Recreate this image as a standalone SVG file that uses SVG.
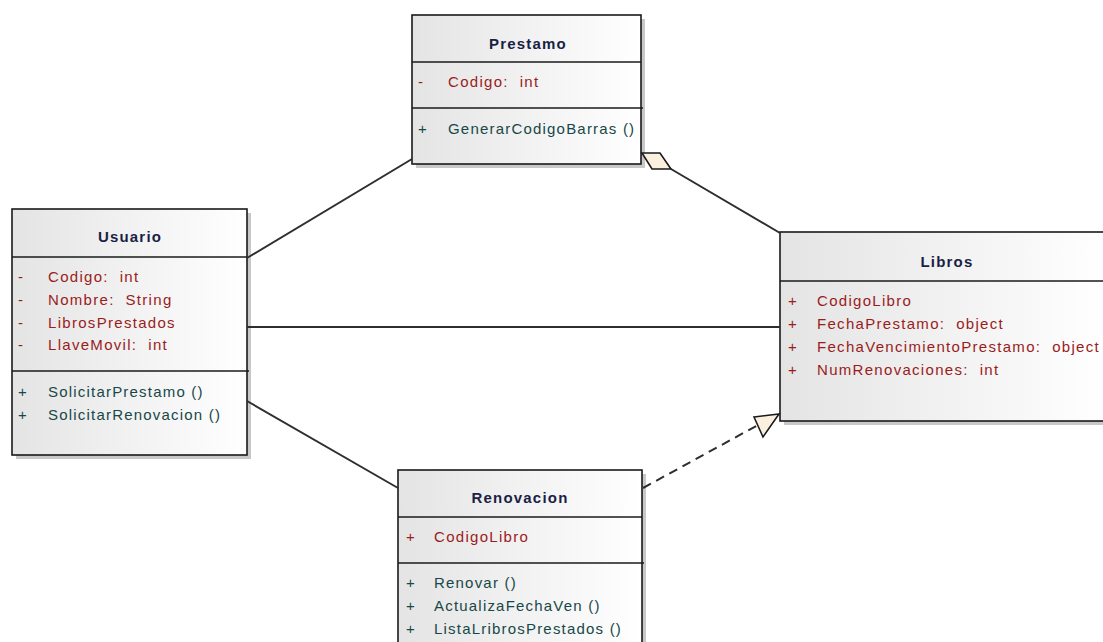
<svg xmlns="http://www.w3.org/2000/svg" width="1103" height="642" viewBox="0 0 1103 642" xml:space="preserve">
<defs>
<linearGradient id="g" x1="0" y1="0" x2="1" y2="0">
<stop offset="0" stop-color="#e4e4e4"/>
<stop offset="1" stop-color="#ffffff"/>
</linearGradient>
</defs>
<style>
.sh{fill:#c8c8c8}
.box{fill:url(#g);stroke:#1a1a1a;stroke-width:1.6}
.div{stroke:#1a1a1a;stroke-width:1.6}
text{font-family:"Liberation Sans",Arial,sans-serif;font-size:15px;letter-spacing:1.3px;white-space:pre}
.t{font-weight:bold;fill:#1a1f45;text-anchor:middle;letter-spacing:1.2px}
.a{fill:#9a1c1c}
.m{fill:#174848;letter-spacing:1.2px}
.ln{fill:none;stroke:#2e2e2e;stroke-width:2}
</style>
<rect width="1103" height="642" fill="#ffffff"/>
<g id="Prestamo">
<rect class="sh" x="416" y="19" width="229" height="149"/>
<rect class="box" x="412" y="15" width="229" height="149"/>
<line class="div" x1="412" y1="62" x2="641" y2="62"/>
<line class="div" x1="412" y1="108" x2="643" y2="108"/>
<text class="t" x="528" y="49">Prestamo</text>
<text class="a" x="418" y="87">-</text>
<text class="a" x="448" y="87">Codigo:  int</text>
<text class="m" x="418" y="134">+</text>
<text class="m" x="448" y="134">GenerarCodigoBarras ()</text>
</g>
<g id="Usuario">
<rect class="sh" x="16" y="213" width="235" height="246"/>
<rect class="box" x="12" y="209" width="235" height="246"/>
<line class="div" x1="12" y1="257" x2="247" y2="257"/>
<line class="div" x1="12" y1="371" x2="249" y2="371"/>
<text class="t" x="130" y="242">Usuario</text>
<text class="a" x="18" y="282">-</text>
<text class="a" x="48" y="282">Codigo:  int</text>
<text class="a" x="18" y="305">-</text>
<text class="a" x="48" y="305">Nombre:  String</text>
<text class="a" x="18" y="328">-</text>
<text class="a" x="48" y="328">LibrosPrestados</text>
<text class="a" x="18" y="350">-</text>
<text class="a" x="48" y="350">LlaveMovil:  int</text>
<text class="m" x="18" y="397">+</text>
<text class="m" x="48" y="397">SolicitarPrestamo ()</text>
<text class="m" x="18" y="420">+</text>
<text class="m" x="48" y="420">SolicitarRenovacion ()</text>
</g>
<g id="Libros">
<rect class="sh" x="784" y="236" width="330" height="189"/>
<rect class="box" x="780" y="232" width="330" height="189"/>
<line class="div" x1="780" y1="281" x2="1110" y2="281"/>
<text class="t" x="947" y="267">Libros</text>
<text class="a" x="788" y="306">+</text>
<text class="a" x="817" y="306">CodigoLibro</text>
<text class="a" x="788" y="329">+</text>
<text class="a" x="817" y="329">FechaPrestamo:  object</text>
<text class="a" x="788" y="352">+</text>
<text class="a" x="817" y="352">FechaVencimientoPrestamo:  object</text>
<text class="a" x="788" y="375">+</text>
<text class="a" x="817" y="375">NumRenovaciones:  int</text>
</g>
<g id="Renovacion">
<rect class="sh" x="402" y="474" width="244" height="180"/>
<rect class="box" x="398" y="470" width="244" height="180"/>
<line class="div" x1="398" y1="517" x2="642" y2="517"/>
<line class="div" x1="398" y1="563" x2="644" y2="563"/>
<text class="t" x="520" y="503">Renovacion</text>
<text class="a" x="406" y="542">+</text>
<text class="a" x="434" y="542">CodigoLibro</text>
<text class="m" x="406" y="588">+</text>
<text class="m" x="434" y="588">Renovar ()</text>
<text class="m" x="406" y="611">+</text>
<text class="m" x="434" y="611">ActualizaFechaVen ()</text>
<text class="m" x="406" y="634">+</text>
<text class="m" x="434" y="634">ListaLribrosPrestados ()</text>
</g>
<g id="connectors">
<line class="ln" x1="247" y1="258" x2="412" y2="159"/>
<line class="ln" x1="247" y1="327" x2="780" y2="327"/>
<line class="ln" x1="247" y1="401" x2="398" y2="488"/>
<line class="ln" x1="671" y1="169" x2="780" y2="233"/>
<polygon points="642,153 660,153 671,169 652,169" fill="#fbefdf" stroke="#1a1a1a" stroke-width="1.6"/>
<line class="ln" x1="643" y1="488" x2="758" y2="425" stroke-dasharray="9,6"/>
<polygon points="754,417 779,414 763,437" fill="#fbefdf" stroke="#1a1a1a" stroke-width="1.6"/>
</g>
</svg>
